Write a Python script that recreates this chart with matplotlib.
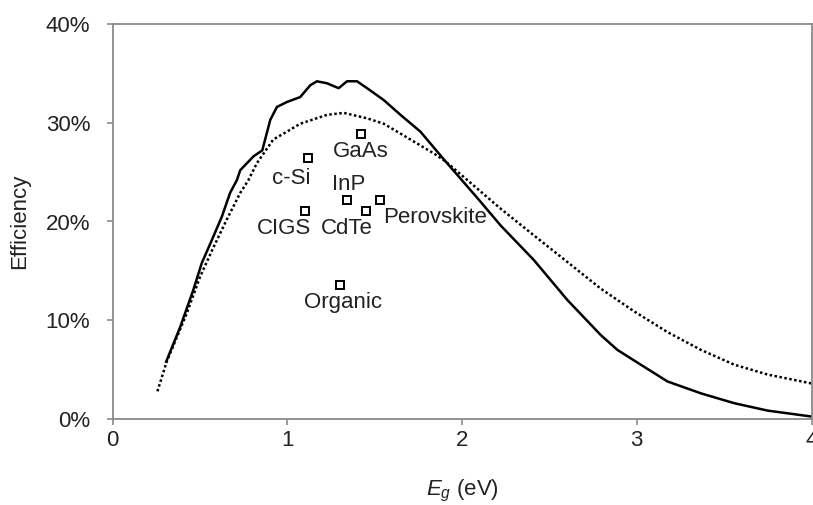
import matplotlib
matplotlib.use("Agg")
import matplotlib.pyplot as plt
from matplotlib.ticker import FuncFormatter

plt.rcParams['font.family'] = ['Liberation Sans', 'DejaVu Sans']
plt.rcParams['mathtext.fontset'] = 'custom'
plt.rcParams['mathtext.rm'] = 'Liberation Sans'
plt.rcParams['mathtext.it'] = 'Liberation Sans:italic'

# Shockley-Queisser limit, real solar spectrum (AM1.5)
eg_sq = [0.307, 0.387, 0.463, 0.511, 0.568, 0.626, 0.673, 0.712, 0.731, 0.807,
         0.857, 0.903, 0.941, 0.998, 1.074, 1.132, 1.170, 1.227, 1.294, 1.342,
         1.399, 1.457, 1.552, 1.648, 1.762, 1.905, 2.087, 2.221, 2.411, 2.603,
         2.794, 2.889, 3.023, 3.176, 3.367, 3.558, 3.749, 4.0]
eff_sq = [5.8, 9.3, 13.1, 15.8, 18.1, 20.5, 22.9, 24.2, 25.2, 26.6,
          27.2, 30.3, 31.6, 32.1, 32.6, 33.8, 34.2, 34.0, 33.5, 34.2,
          34.2, 33.5, 32.3, 30.8, 29.1, 26.1, 22.4, 19.6, 16.1, 12.05,
          8.5, 7.0, 5.5, 3.8, 2.6, 1.6, 0.85, 0.25]

# blackbody-sun approximation
eg_bb = [0.257, 0.31, 0.425, 0.501, 0.578, 0.654, 0.731, 0.778, 0.826, 0.92,
         0.998, 1.074, 1.227, 1.323, 1.457, 1.552, 1.648, 1.838, 1.905, 2.221,
         2.411, 2.603, 2.794, 2.985, 3.176, 3.367, 3.558, 3.749, 4.0]
eff_bb = [2.8, 5.8, 10.7, 14.4, 17.4, 20.2, 22.9, 24.2, 25.9, 28.3,
          29.1, 29.9, 30.8, 31.0, 30.45, 29.9, 28.9, 26.9, 26.1, 21.3,
          18.6, 15.9, 13.2, 10.9, 8.8, 7.0, 5.5, 4.5, 3.6]

# record cells
cells = ['GaAs', 'c-Si', 'InP', 'CIGS', 'CdTe', 'Perovskite', 'Organic']
cell_eg = [1.42, 1.12, 1.34, 1.10, 1.45, 1.53, 1.30]
cell_eff = [28.9, 26.4, 22.2, 21.1, 21.1, 22.2, 13.6]

# where each name sits
label_pos = {
    'GaAs': (1.418, 27.1),
    'c-Si': (1.021, 24.4),
    'InP': (1.351, 23.7),
    'CIGS': (0.979, 19.3),
    'CdTe': (1.342, 19.3),
    'Perovskite': (1.848, 20.4),
    'Organic': (1.319, 11.8),
}

txt = '#222222'
frame = '#8a8a8a'

fig = plt.figure(figsize=(8.13, 5.05), dpi=100)
ax = fig.add_axes([112.5 / 813, 86 / 505, 699 / 813, 395 / 505])

ax.plot(eg_bb, eff_bb, color='black', lw=1.8, linestyle=(0, (1, 1)))
ax.plot(eg_sq, eff_sq, color='black', lw=1.8, solid_joinstyle='round')
ax.plot(cell_eg, cell_eff, linestyle='none', marker='s', markersize=6,
        markerfacecolor='white', markeredgecolor='black', markeredgewidth=1.4)

for name in cells:
    x, y = label_pos[name]
    ax.text(x, y, name, ha='center', va='center', fontsize=16, color=txt)

ax.set_xlim(0, 4)
ax.set_ylim(0, 40)
ax.set_xticks([0, 1, 2, 3, 4])
ax.set_yticks([0, 10, 20, 30, 40])
ax.yaxis.set_major_formatter(FuncFormatter(lambda v, p: f'{v:.0f}%'))

for side in ax.spines.values():
    side.set_color(frame)
    side.set_linewidth(1.3)
ax.tick_params(axis='both', direction='out', length=4, width=1.2, color=frame,
               labelsize=16, labelcolor=txt)
ax.tick_params(axis='y', pad=12)
ax.tick_params(axis='x', pad=4)

ax.set_xlabel(r'$E_g$ (eV)', fontsize=16, color=txt)
ax.set_ylabel('Efficiency', fontsize=16, color=txt)
ax.xaxis.set_label_coords(0.5, -0.149)
ax.yaxis.set_label_coords(-0.118, 0.5)

fig.savefig('out.png', dpi=100)
